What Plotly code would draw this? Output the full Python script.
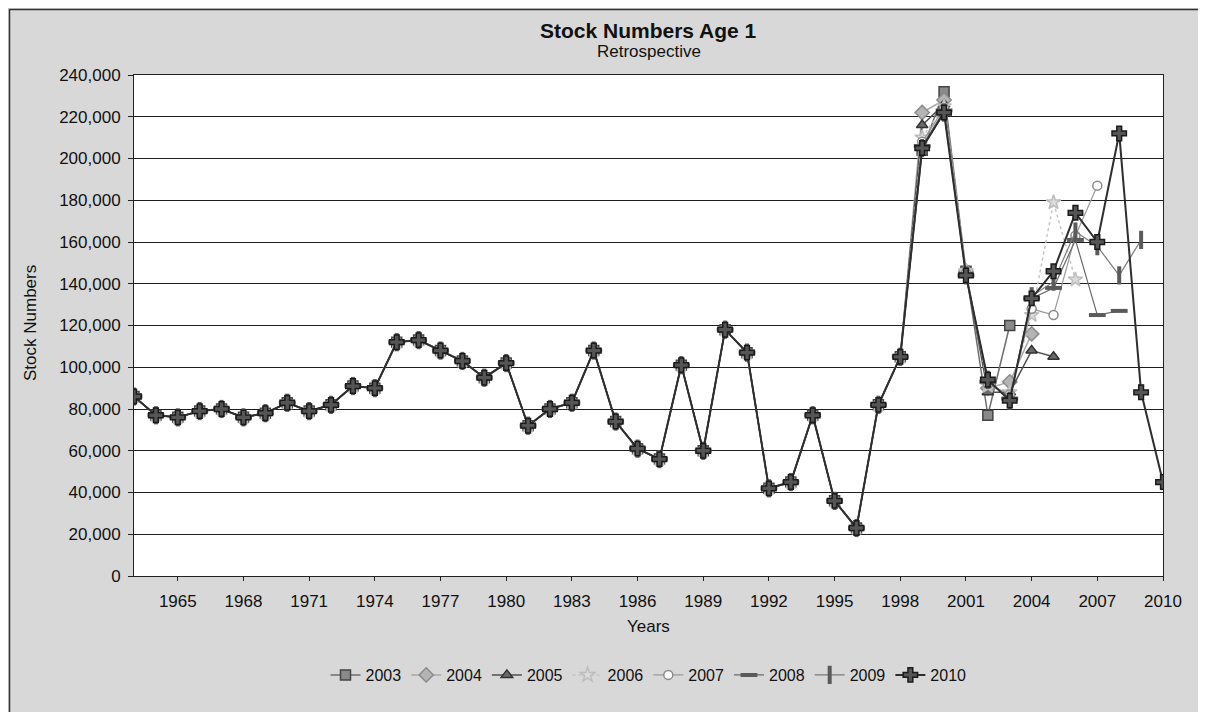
import plotly.graph_objects as go

# years on the x axis
years = list(range(1963, 2011))
x_ticks = [1965, 1968, 1971, 1974, 1977, 1980, 1983, 1986, 1989, 1992,
           1995, 1998, 2001, 2004, 2007, 2010]

# common part of all retrospective runs, 1963-1998 (stock numbers)
history = [86000, 77000, 76000, 79000, 80000, 76000, 78000, 83000, 79000, 82000,
           91000, 90000, 112000, 113000, 108000, 103000, 95000, 102000, 72000, 80000,
           83000, 108000, 74000, 61000, 56000, 101000, 60000, 118000, 107000, 42000,
           45000, 77000, 36000, 23000, 82000, 105000]

# each assessment year from 1999 up to its own final year
tail_2003 = [204000, 232000, 146000, 77000, 120000]
tail_2004 = [222000, 228000, 146000, 90000, 93000, 116000]
tail_2005 = [216000, 226000, 145000, 88000, 88000, 108000, 105000]
tail_2006 = [210000, 225000, 146000, 91000, 88000, 125000, 179000, 142000]
tail_2007 = [208000, 224000, 145000, 92000, 87000, 128000, 125000, 163000, 187000]
tail_2008 = [206000, 223000, 144000, 93000, 85000, 133000, 138000, 161000, 125000, 127000]
tail_2009 = [205000, 222000, 144000, 94000, 84000, 134000, 141000, 165000, 158000, 144000, 161000]
tail_2010 = [205000, 222000, 144000, 94000, 84000, 133000, 146000, 174000, 160000, 212000, 88000, 45000]

series_names = ["2003", "2004", "2005", "2006", "2007", "2008", "2009", "2010"]
tails = [tail_2003, tail_2004, tail_2005, tail_2006, tail_2007, tail_2008, tail_2009, tail_2010]

styles = {
    "2003": dict(color="#6e6e6e", symbol="square", size=10, mfill="#8a8a8a", mline="#444444", mw=1.5, dash="solid", width=1.5),
    "2004": dict(color="#a8a8a8", symbol="diamond", size=11, mfill="#b4b4b4", mline="#8c8c8c", mw=1.5, dash="solid", width=1.5),
    "2005": dict(color="#505050", symbol="triangle-up", size=10, mfill="#6a6a6a", mline="#333333", mw=1.5, dash="solid", width=1.5),
    "2006": dict(color="#c4c4c4", symbol="star", size=11, mfill="#dcdcdc", mline="#bdbdbd", mw=1.5, dash="dot", width=1.5),
    "2007": dict(color="#9a9a9a", symbol="circle", size=9, mfill="#ffffff", mline="#8a8a8a", mw=1.5, dash="solid", width=1.2),
    "2008": dict(color="#6a6a6a", symbol="line-ew", size=12, mfill="#6a6a6a", mline="#5a5a5a", mw=4, dash="solid", width=1.2),
    "2009": dict(color="#7a7a7a", symbol="line-ns", size=13, mfill="#7a7a7a", mline="#5a5a5a", mw=4, dash="solid", width=1.2),
    "2010": dict(color="#2e2e2e", symbol="cross", size=12, mfill="#555555", mline="#1a1a1a", mw=1.5, dash="solid", width=2),
}

fig = go.Figure()
for name, tail in zip(series_names, tails):
    st = styles[name]
    vals = history + tail
    fig.add_trace(go.Scatter(
        x=years[:len(vals)], y=vals, name=name, mode="lines+markers",
        line=dict(color=st["color"], width=st["width"], dash=st["dash"]),
        marker=dict(symbol=st["symbol"], size=st["size"], color=st["mfill"],
                    line=dict(color=st["mline"], width=st["mw"])),
    ))

W, H = 1206, 712
L, R, T, B = 126, 51, 67, 144
pw, ph = W - L - R, H - T - B

def px(x):
    return (x - L) / pw

def py(y):
    return (H - B - y) / ph

font = "Liberation Sans, Arial, sans-serif"

fig.update_layout(
    width=W, height=H,
    margin=dict(l=L, r=R, t=T, b=B),
    paper_bgcolor="#d8d8d8",
    plot_bgcolor="white",
    font=dict(family=font, size=17, color="#111111"),
    showlegend=True,
    legend=dict(orientation="h", x=0.5, xanchor="center", y=py(667), yanchor="middle",
                bgcolor="rgba(0,0,0,0)", font=dict(size=16), itemwidth=30,
                tracegroupgap=0),
    xaxis=dict(range=[1963, 2010], tickvals=x_ticks, ticks="outside", ticklen=4,
               tickcolor="#222", showgrid=False, zeroline=False,
               showline=True, linecolor="#222", linewidth=1, mirror=True,
               ticklabelstandoff=6, tickfont=dict(size=17)),
    yaxis=dict(range=[0, 240000], dtick=20000, tickformat=",", ticks="outside",
               ticklen=5, tickcolor="#222", showgrid=True, gridcolor="#1e1e1e",
               gridwidth=1, zeroline=False, showline=True, linecolor="#222",
               linewidth=1, mirror=True, ticklabelstandoff=4, tickfont=dict(size=17)),
    annotations=[
        dict(text="<b>Stock Numbers Age 1</b>", x=0.5, y=py(23), xref="paper", yref="paper",
             showarrow=False, font=dict(size=21), yanchor="middle"),
        dict(text="Retrospective", x=0.5, y=py(44), xref="paper", yref="paper",
             showarrow=False, font=dict(size=17), yanchor="middle"),
        dict(text="Years", x=0.5, y=py(618), xref="paper", yref="paper",
             showarrow=False, font=dict(size=17), yanchor="middle"),
        dict(text="Stock Numbers", x=px(22), y=py(315), xref="paper", yref="paper",
             showarrow=False, font=dict(size=17), textangle=-90,
             xanchor="center", yanchor="middle"),
    ],
    shapes=[
        dict(type="rect", xref="paper", yref="paper",
             x0=px(1.5), x1=px(W - 1.5), y0=py(H - 1.5), y1=py(1.5),
             line=dict(color="#333333", width=1.5)),
    ],
)

fig.write_html("out.html")
